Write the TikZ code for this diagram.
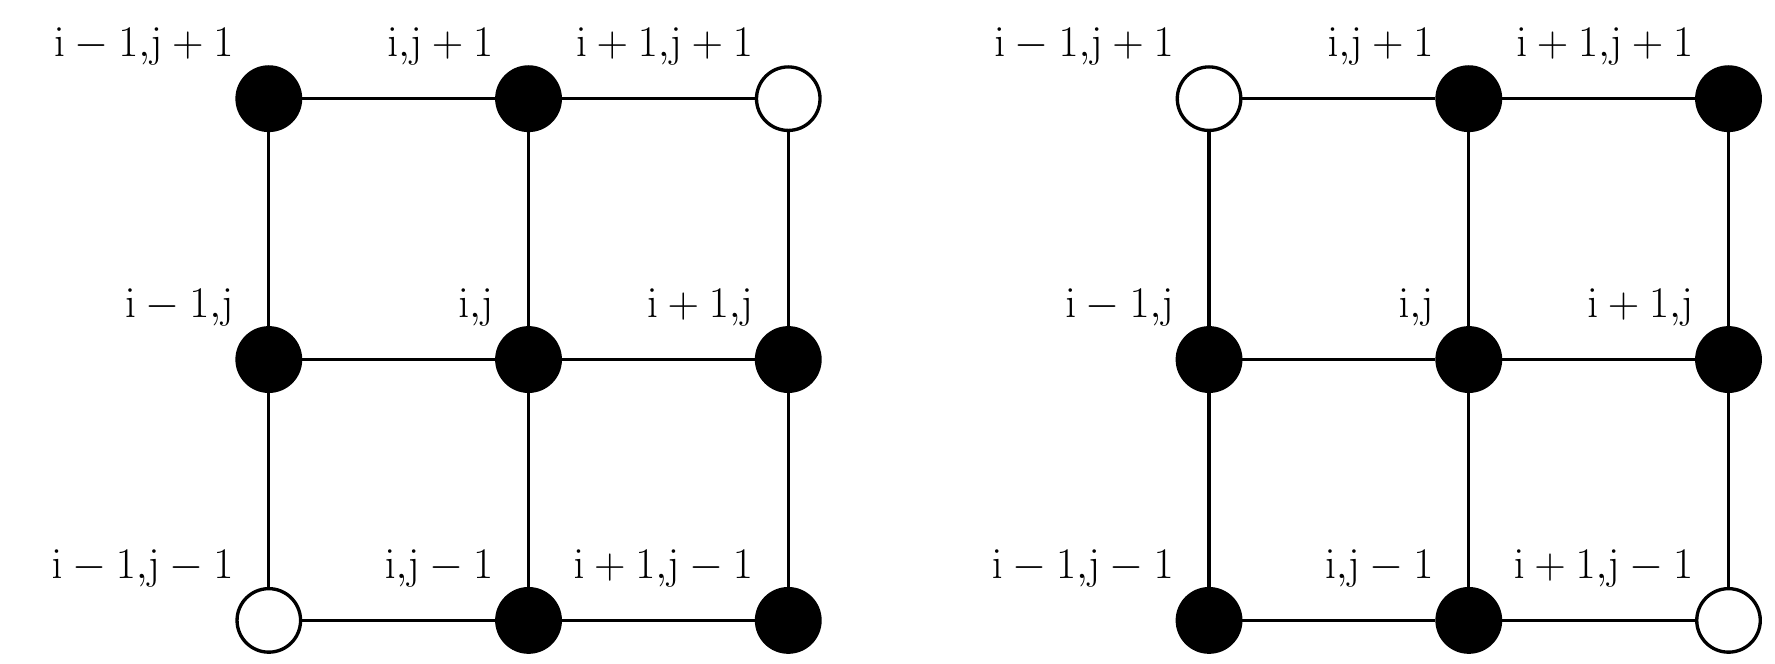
\documentclass[tikz,border=0pt]{standalone}
\begin{document}
\begin{tikzpicture}[x=0.02268cm,y=-0.02268cm,
  pt/.style={circle,draw,line width=1.9pt,minimum size=1.27cm,inner sep=0},
  bk/.style={pt,fill=black},
  wt/.style={pt,fill=white},
  edge/.style={line width=1.9pt},
  lbl/.style={anchor=south east,inner sep=0,font=\fontsize{33}{38}\selectfont}]
\foreach \g/\ox/\fills in {L/237/{bk,bk,wt,bk,bk,bk,wt,bk,bk},R/1066/{wt,bk,bk,bk,bk,bk,bk,bk,wt}}{
  \foreach \f [count=\k from 0] in \fills {
    \pgfmathtruncatemacro\c{mod(\k,3)}
    \pgfmathtruncatemacro\r{div(\k,3)}
    \node[\f] (\g\c\r) at ({\ox+229*\c},{87+230*\r}) {};
  }
  \draw[edge] (\g00)--(\g10) (\g10)--(\g20) (\g01)--(\g11) (\g11)--(\g21) (\g02)--(\g12) (\g12)--(\g22)
    (\g00)--(\g01) (\g01)--(\g02) (\g10)--(\g11) (\g11)--(\g12) (\g20)--(\g21) (\g21)--(\g22);
  \foreach \c/\cl in {0/{i-1},1/{i},2/{i+1}}{
    \foreach \r/\rl in {0/{j+1},1/{j},2/{j-1}}{
      \node[lbl] at ([xshift=-0.70cm,yshift=0.66cm]\g\c\r.center) {$\mathrm{\cl{,}\rl}$};
    }
  }
}
\pgfresetboundingbox
\useasboundingbox (0,0) rectangle (1565,585);
\end{tikzpicture}
\end{document}
